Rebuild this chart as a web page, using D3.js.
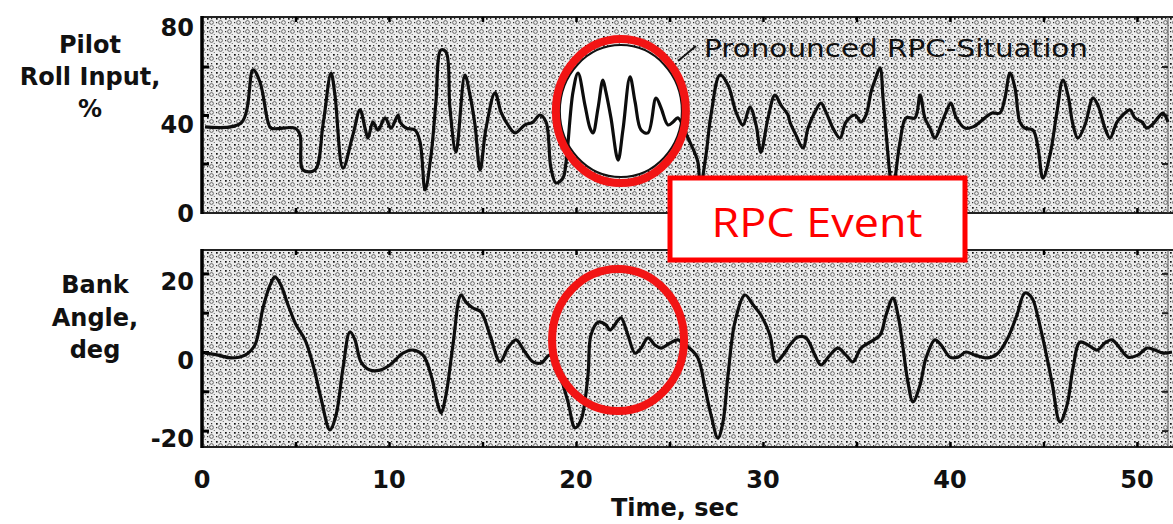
<!DOCTYPE html>
<html><head><meta charset="utf-8">
<script src="https://cdn.jsdelivr.net/npm/d3@7"></script>
<style>
html,body{margin:0;padding:0;background:#fff;}
svg{display:block;}
</style></head>
<body>
<svg id="chart" width="1173" height="524"></svg>
<script>
// ---- data ----
const timeTicks = [0, 10, 20, 30, 40, 50];
const rollTickLabels = [0, 40, 80];
const rollMinorTicks = [20, 40, 60];
const bankTickLabels = [-20, 0, 20];
const bankMinorTicks = [-20, -10, 0, 10, 20];

const rollTime = [0.16,2.09,2.73,3.10,3.53,3.69,4.97,5.24,5.40,6.04,6.47,6.90,7.11,7.54,8.07,8.45,8.72,8.88,9.14,9.41,9.79,10.11,10.48,10.59,10.91,11.39,11.66,11.93,12.25,12.51,12.78,13.05,13.26,13.58,14.06,14.33,14.60,14.87,15.19,15.67,15.99,16.36,16.74,17.27,17.70,18.07,18.40,18.66,18.93,19.30,19.47,19.84,20.11,20.48,20.75,20.91,21.18,21.44,21.60,21.87,22.25,22.51,22.89,23.16,23.48,23.85,24.28,24.55,24.92,25.19,25.45,25.99,26.52,26.63,26.95,27.22,27.70,28.13,28.56,28.93,29.30,29.63,29.89,30.27,30.64,30.96,31.34,31.44,31.76,32.14,32.41,32.78,33.10,33.37,33.74,34.12,34.44,34.92,35.24,35.51,35.78,35.99,36.26,36.42,36.58,36.79,36.95,37.11,37.33,37.65,38.13,38.40,38.66,38.93,39.20,39.52,39.79,40.05,40.32,40.80,41.23,41.87,42.25,42.67,42.94,43.21,43.48,43.74,44.01,44.44,44.71,44.97,45.35,45.72,46.04,46.31,46.58,46.84,47.22,47.65,47.91,48.29,48.56,48.93,49.25,49.63,49.89,50.27,50.53,50.80,51.12,51.39,51.66];
const rollInput = [35.1,36.7,58.6,53.6,37.1,34.6,34.6,31.8,17.3,17.3,35.9,57.3,48.2,18.1,31.8,42.1,34.6,30.5,37.1,33.8,38.8,34.6,40.0,37.1,34.6,33.8,28.9,9.1,23.5,45.4,66.8,66.0,42.9,24.7,56.5,48.2,35.9,17.3,34.6,49.1,41.2,35.9,32.6,35.9,37.1,40.0,37.1,18.1,12.0,14.0,20.6,49.5,57.3,44.1,34.6,32.6,42.9,54.4,49.5,38.8,21.4,33.8,55.7,45.4,33.8,32.6,47.0,42.9,35.9,37.1,38.8,30.5,20.6,9.1,23.5,40.0,56.5,52.4,41.2,35.9,43.3,35.9,24.7,38.8,48.2,44.1,40.0,37.1,31.8,26.4,34.6,41.2,44.9,41.2,34.6,30.5,37.1,40.0,37.1,40.0,49.5,54.4,59.4,47.0,33.0,15.3,7.0,16.5,28.9,38.8,38.8,48.2,38.8,34.6,30.5,35.9,41.2,44.9,39.2,34.6,35.1,38.8,40.8,40.8,47.0,57.3,51.1,37.1,34.6,33.8,26.4,14.0,23.5,41.2,54.4,48.2,35.9,30.5,35.9,47.0,44.1,34.6,30.5,37.1,40.0,42.1,38.8,37.1,34.6,35.9,38.8,40.8,37.1];

const bankTime = [0.16,0.86,1.55,2.30,2.83,3.26,3.64,3.90,4.22,4.60,5.03,5.51,5.94,6.36,6.84,7.17,7.54,7.91,8.18,8.50,8.98,9.52,10.05,10.75,11.28,11.82,12.25,12.62,12.78,13.05,13.42,13.85,14.12,14.49,14.92,15.40,15.94,16.36,16.79,17.27,17.70,18.13,18.61,19.14,19.57,19.95,20.27,20.64,20.80,21.18,21.60,21.82,22.25,22.41,22.78,23.16,23.48,23.85,24.22,24.55,25.03,25.45,25.99,26.52,26.90,27.22,27.59,27.86,28.13,28.50,29.04,29.47,29.89,30.37,30.70,31.07,31.44,31.87,32.30,32.78,33.10,33.58,34.01,34.44,34.81,35.24,35.72,36.26,36.58,36.95,37.22,37.49,37.75,38.02,38.40,38.72,39.20,39.52,40.00,40.43,40.86,41.34,42.03,42.57,43.10,43.58,44.01,44.39,44.71,45.08,45.45,45.88,46.26,46.58,46.95,47.38,47.86,48.29,48.66,49.09,49.52,50.05,50.53,50.96,51.39,51.87];
const bankAngle = [-0.3,-0.8,-1.5,-0.8,1.8,11.2,17.0,19.1,17.0,12.0,6.9,3.1,-3.3,-11.7,-19.8,-16.0,-4.1,5.1,3.1,-2.5,-4.6,-4.6,-3.3,-0.3,0.5,-0.8,-5.9,-13.5,-15.5,-10.9,1.8,14.5,12.7,11.2,10.2,4.3,-2.5,1.0,3.1,0.0,-2.5,-2.8,-0.8,-5.9,-12.7,-19.3,-17.3,-5.9,4.3,7.6,6.9,5.6,8.1,8.7,4.3,-0.3,1.0,3.6,1.8,1.0,2.3,3.1,1.3,-1.5,-9.2,-16.0,-21.9,-17.8,-5.9,7.6,14.5,12.0,9.4,4.3,-2.5,-0.8,1.8,3.8,3.6,-0.8,-3.3,-0.8,1.0,-0.8,-2.5,1.0,2.5,4.3,9.4,13.7,9.4,1.0,-7.6,-12.7,-8.4,-1.5,3.1,1.8,-1.3,-1.3,0.0,-0.8,-1.5,-0.3,3.6,9.4,15.0,13.7,8.7,1.0,-7.6,-17.8,-13.5,-4.1,2.5,1.8,0.5,2.3,3.1,1.0,-1.3,-0.8,1.0,0.5,-0.3,0.0];

// ---- layout ----
const svg = d3.select('#chart');
const X0 = 202, X1 = 1168;
const topPanel = {y0: 17, y1: 213};
const botPanel = {y0: 250, y1: 447};

const x = d3.scaleLinear().domain([0, 51.66]).range([X0, X1]);
const yTop = d3.scaleLinear().domain([0, 80]).range([212, 18]);
const yBot = d3.scaleLinear().domain([-20, 20]).range([430.6, 273.4]);

// halftone pattern
const defs = svg.append('defs');
const pat = defs.append('pattern').attr('id','ht').attr('patternUnits','userSpaceOnUse')
  .attr('width', 9).attr('height', 9);
pat.append('rect').attr('width',9).attr('height',9).attr('fill','#ececec');
pat.append('circle').attr('cx',4.5).attr('cy',4.5).attr('r',1.9).attr('fill','none').attr('stroke','#5a5a5a').attr('stroke-width',0.9);
pat.append('rect').attr('x',0).attr('y',0).attr('width',1.7).attr('height',1.7).attr('fill','#111');
pat.append('rect').attr('x',4).attr('y',0).attr('width',1.2).attr('height',1.2).attr('fill','#333');
pat.append('rect').attr('x',0).attr('y',4).attr('width',1.2).attr('height',1.2).attr('fill','#333');
pat.append('rect').attr('x',6.8).attr('y',7).attr('width',1).attr('height',1).attr('fill','#666');

function panel(p, yScale, minor) {
  svg.append('rect').attr('x', X0).attr('y', p.y0).attr('width', 1173 - X0).attr('height', p.y1 - p.y0)
    .attr('fill', 'url(#ht)');
  svg.append('line').attr('x1', X0).attr('x2', 1173).attr('y1', p.y0).attr('y2', p.y0).attr('stroke', '#222').attr('stroke-width', 2);
  svg.append('line').attr('x1', X0).attr('x2', 1173).attr('y1', p.y1).attr('y2', p.y1).attr('stroke', '#222').attr('stroke-width', 2);
  svg.append('line').attr('x1', X1).attr('x2', X1).attr('y1', p.y0).attr('y2', p.y1).attr('stroke', '#555').attr('stroke-width', 1);
  svg.append('line').attr('x1', X0).attr('x2', X0).attr('y1', p.y0 - 1).attr('y2', p.y1 + 1).attr('stroke', '#000').attr('stroke-width', 3.5);
  svg.append('g').attr('transform', `translate(${X0},0)`)
    .call(d3.axisRight(yScale).tickValues(minor).tickSize(7).tickFormat(''))
    .call(g => { g.select('.domain').remove(); g.selectAll('line').attr('stroke', '#000').attr('stroke-width', 3); });
  svg.append('g').attr('transform', `translate(${X1},0)`)
    .call(d3.axisLeft(yScale).tickValues(minor).tickSize(6).tickFormat(''))
    .call(g => { g.select('.domain').remove(); g.selectAll('line').attr('stroke', '#222').attr('stroke-width', 2); });
  const tt = d3.range(5, 51, 5);
  svg.append('g').attr('transform', `translate(0,${p.y0})`)
    .call(d3.axisBottom(x).tickValues(tt).tickSize(5).tickFormat(''))
    .call(g => { g.select('.domain').remove(); g.selectAll('line').attr('stroke', '#000').attr('stroke-width', 2.5); });
  svg.append('g').attr('transform', `translate(0,${p.y1})`)
    .call(d3.axisTop(x).tickValues(tt).tickSize(5).tickFormat(''))
    .call(g => { g.select('.domain').remove(); g.selectAll('line').attr('stroke', '#000').attr('stroke-width', 2.5); });
}
panel(topPanel, yTop, rollMinorTicks);
panel(botPanel, yBot, bankMinorTicks);

// white interior of the pronounced RPC circle (part of the original figure)
const cTop = {t: 22.4, v: 41.6};
svg.append('ellipse').attr('cx', x(cTop.t)).attr('cy', yTop(cTop.v)).attr('rx', 61).attr('ry', 66)
  .attr('fill', '#fff').attr('stroke', '#111').attr('stroke-width', 2);

// traces
const lineTop = d3.line().x((d, i) => x(rollTime[i])).y(d => yTop(d)).curve(d3.curveCatmullRom.alpha(0.5));
svg.append('path').datum(rollInput).attr('d', lineTop).attr('fill', 'none')
  .attr('stroke', '#0d0d0d').attr('stroke-width', 3.2).attr('stroke-linejoin', 'round');
const lineBot = d3.line().x((d, i) => x(bankTime[i])).y(d => yBot(d)).curve(d3.curveCatmullRom.alpha(0.5));
svg.append('path').datum(bankAngle).attr('d', lineBot).attr('fill', 'none')
  .attr('stroke', '#0d0d0d').attr('stroke-width', 3.2).attr('stroke-linejoin', 'round');

// leader + annotation text
svg.append('line').attr('x1', 678).attr('y1', 61).attr('x2', 696).attr('y2', 46).attr('stroke', '#111').attr('stroke-width', 2);
svg.append('text').attr('x', 704).attr('y', 57).text('Pronounced RPC-Situation')
  .attr('font-family', 'DejaVu Sans, sans-serif').attr('font-size', 25).attr('fill', '#111')
  .attr('textLength', 384).attr('lengthAdjust', 'spacingAndGlyphs');

// red rings
svg.append('ellipse').attr('cx', x(cTop.t)).attr('cy', yTop(cTop.v)).attr('rx', 65).attr('ry', 72)
  .attr('fill', 'none').attr('stroke', '#f21414').attr('stroke-width', 8);
const cBot = {t: 22.25, v: 3.05};
svg.append('ellipse').attr('cx', x(cBot.t)).attr('cy', yBot(cBot.v)).attr('rx', 66).attr('ry', 71)
  .attr('fill', 'none').attr('stroke', '#f21414').attr('stroke-width', 8);

// RPC Event box
svg.append('rect').attr('x', 670).attr('y', 178).attr('width', 295).attr('height', 82)
  .attr('fill', '#fff').attr('stroke', '#ff0000').attr('stroke-width', 5);
svg.append('text').attr('x', 817).attr('y', 237).attr('text-anchor', 'middle').text('RPC Event')
  .attr('font-family', 'Open Sans, sans-serif').attr('font-size', 41).attr('fill', '#ff0000')
  .attr('textLength', 211).attr('lengthAdjust', 'spacingAndGlyphs');

// tick labels
const lab = {'font-family': 'DejaVu Sans, sans-serif', 'font-weight': 'bold', 'font-size': 24, fill: '#111'};
function styl(s) { Object.entries(lab).forEach(([k, v]) => s.attr(k, v)); return s; }
styl(svg.append('g').selectAll('text').data(rollTickLabels).join('text')
  .attr('x', 194).attr('y', d => Math.min(yTop(d) + 9, 213)).attr('dy', '0.36em').attr('text-anchor', 'end').text(d => d));
styl(svg.append('g').selectAll('text').data(bankTickLabels).join('text')
  .attr('x', 194).attr('y', d => yBot(d) + 8).attr('dy', '0.36em').attr('text-anchor', 'end').text(d => d));
styl(svg.append('g').selectAll('text').data(timeTicks).join('text')
  .attr('x', d => x(d)).attr('y', 488).attr('text-anchor', 'middle').text(d => d));

// axis titles
const titleTop = ['Pilot', 'Roll Input,', '%'];
const titleBot = ['Bank', 'Angle,', 'deg'];
styl(svg.append('g').selectAll('text').data(titleTop).join('text')
  .attr('x', 90).attr('y', (d, i) => [53, 85, 117][i]).attr('text-anchor', 'middle').attr('font-size', 25).text(d => d));
styl(svg.append('g').selectAll('text').data(titleBot).join('text')
  .attr('x', 95).attr('y', (d, i) => [293, 326, 358][i]).attr('text-anchor', 'middle').attr('font-size', 25).text(d => d));
styl(svg.append('text').attr('x', 675).attr('y', 516).attr('text-anchor', 'middle').attr('font-size', 24).text('Time, sec'));
</script>
</body></html>
